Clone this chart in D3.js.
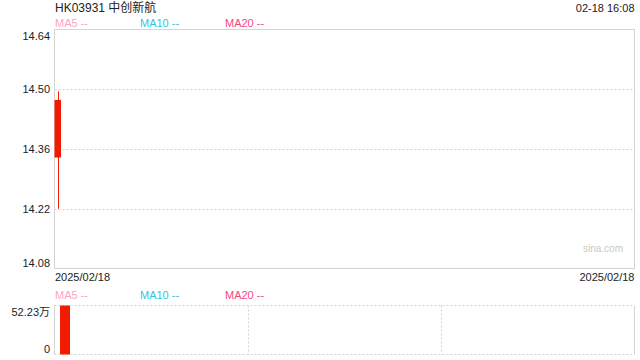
<!DOCTYPE html>
<html>
<head>
<meta charset="utf-8">
<script src="https://cdn.jsdelivr.net/npm/d3@7"></script>
<style>
  body { margin: 0; background: #fff; }
  svg { display: block; font-family: Arial, "Liberation Sans", "Noto Sans CJK SC", sans-serif; }
</style>
</head>
<body>
<div id="chart"></div>
<script>
// data
const title = 'HK03931 中创新航';
const stamp = '02-18 16:08';
const dates = ['2025/02/18'];
const opens = [14.34];
const closes = [14.475];
const highs = [14.495];
const lows = [14.22];
const volumes = [52.23]; // 万
const priceTicks = [14.08, 14.22, 14.36, 14.50, 14.64];
const volTicks = [0, 52.23];
const maNames = ['MA5', 'MA10', 'MA20'];
const maColors = ['#ffa3c3', '#35c4e0', '#f3487f'];

const W = 640, H = 360;
const left = 54.5, right = 634.5;
const red = '#f21a00';
const gridColor = '#d4d4d4';

let svg = d3.select('#chart').append('svg')
  .attr('width', W)
  .attr('height', H);

// header
svg.append('text')
  .attr('x', 55).attr('y', 12)
  .attr('font-size', 12).attr('fill', '#222')
  .text(title);
svg.append('text')
  .attr('x', right).attr('y', 12)
  .attr('text-anchor', 'end')
  .attr('font-size', 11).attr('fill', '#222')
  .text(stamp);

function legend(y) {
  let g = svg.append('g');
  maNames.forEach(function (n, i) {
    g.append('text')
      .attr('x', 55 + i * 85).attr('y', y)
      .attr('font-size', 11).attr('fill', maColors[i])
      .text(n + ' --');
  });
}
legend(27);
legend(299);

// main price panel
const mainTop = 29.5, mainBottom = 268.5;
let y = d3.scaleLinear().domain([14.08, 14.64]).range([mainBottom, mainTop]);
let x = d3.scaleBand().domain(dates).range([left, left + 7]).padding(0);

// dotted gridlines (inner ticks only)
svg.append('g').selectAll('line')
  .data(priceTicks.slice(1, -1))
  .enter().append('line')
  .attr('x1', left).attr('x2', right)
  .attr('y1', function (d) { return Math.round(y(d)) + 0.5; })
  .attr('y2', function (d) { return Math.round(y(d)) + 0.5; })
  .attr('stroke', gridColor).attr('stroke-dasharray', '2,2');

svg.append('rect')
  .attr('x', left).attr('y', mainTop)
  .attr('width', right - left).attr('height', mainBottom - mainTop)
  .attr('fill', 'none').attr('stroke', gridColor);

// y tick labels, first and last pulled inside the panel
svg.append('g').selectAll('text')
  .data(priceTicks)
  .enter().append('text')
  .attr('x', 50)
  .attr('y', function (d, i) {
    let p = y(d);
    if (i === 0) p -= 6;
    if (i === priceTicks.length - 1) p += 6;
    return p + 4;
  })
  .attr('text-anchor', 'end')
  .attr('font-size', 11).attr('fill', '#222')
  .text(function (d) { return d.toFixed(2); });

// candles
let candles = svg.append('g').selectAll('g')
  .data(dates)
  .enter().append('g');
candles.append('line')
  .attr('x1', function (d) { return x(d) + x.bandwidth() / 2 + 0.5; })
  .attr('x2', function (d) { return x(d) + x.bandwidth() / 2 + 0.5; })
  .attr('y1', function (d, i) { return y(highs[i]); })
  .attr('y2', function (d, i) { return y(lows[i]); })
  .attr('stroke', red).attr('stroke-width', 1);
candles.append('rect')
  .attr('x', function (d) { return x(d); })
  .attr('width', x.bandwidth() - 0.5)
  .attr('y', function (d, i) { return y(Math.max(opens[i], closes[i])); })
  .attr('height', function (d, i) { return Math.abs(y(opens[i]) - y(closes[i])); })
  .attr('fill', red);

// date labels
svg.append('text')
  .attr('x', 55).attr('y', 281)
  .attr('font-size', 11).attr('fill', '#222')
  .text(dates[0]);
svg.append('text')
  .attr('x', right).attr('y', 281)
  .attr('text-anchor', 'end')
  .attr('font-size', 11).attr('fill', '#222')
  .text(dates[dates.length - 1]);

// watermark
svg.append('text')
  .attr('x', 623).attr('y', 252)
  .attr('text-anchor', 'end')
  .attr('font-size', 10).attr('fill', '#c8c8c8')
  .text('sina.com');

// volume panel
const volTop = 305.5, volBottom = 354.5;
let yv = d3.scaleLinear().domain([0, d3.max(volumes)]).range([volBottom, volTop]);
let xv = d3.scaleBand().domain(dates).range([left + 5.5, left + 15.5]).padding(0);

let third = (right - left) / 3;
let vg = svg.append('g');
[volTop, volBottom].forEach(function (py) {
  vg.append('line')
    .attr('x1', left).attr('x2', right)
    .attr('y1', py).attr('y2', py)
    .attr('stroke', gridColor).attr('stroke-dasharray', '2,2');
});
[1, 2].forEach(function (k) {
  let px = Math.round(left + third * k) + 0.5;
  vg.append('line')
    .attr('x1', px).attr('x2', px)
    .attr('y1', volTop).attr('y2', volBottom)
    .attr('stroke', gridColor).attr('stroke-dasharray', '2,2');
});
[left, right].forEach(function (px) {
  vg.append('line')
    .attr('x1', px).attr('x2', px)
    .attr('y1', volTop).attr('y2', volBottom)
    .attr('stroke', gridColor);
});

svg.append('g').selectAll('rect')
  .data(dates)
  .enter().append('rect')
  .attr('x', function (d) { return xv(d); })
  .attr('width', xv.bandwidth())
  .attr('y', function (d, i) { return yv(volumes[i]); })
  .attr('height', function (d, i) { return yv(0) - yv(volumes[i]); })
  .attr('fill', red);

svg.append('g').selectAll('text')
  .data(volTicks)
  .enter().append('text')
  .attr('x', 50)
  .attr('y', function (d, i) { return yv(d) + (i === 0 ? -6 : 6) + 4; })
  .attr('text-anchor', 'end')
  .attr('font-size', 11).attr('fill', '#222')
  .text(function (d) { return d === 0 ? '0' : d.toFixed(2) + '万'; });
</script>
</body>
</html>
